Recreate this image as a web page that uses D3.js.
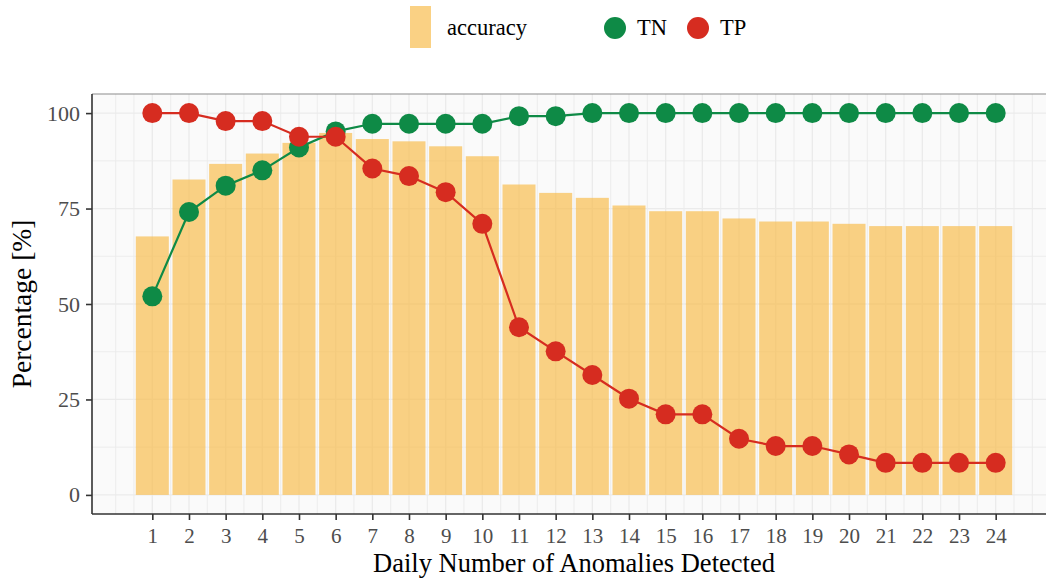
<!DOCTYPE html>
<html>
<head>
<meta charset="utf-8">
<script src="https://cdn.jsdelivr.net/npm/d3@7"></script>
<style>
  body { margin: 0; background: #fff; }
  svg { display: block; font-family: "Liberation Serif", "DejaVu Serif", serif; }
</style>
</head>
<body>
<svg width="1046" height="583"></svg>
<script>
// Data
var days = [1, 2, 3, 4, 5, 6, 7, 8, 9, 10, 11, 12, 13, 14, 15, 16, 17, 18, 19, 20, 21, 22, 23, 24];
var accuracy = [67.7, 82.6, 86.7, 89.4, 92.2, 94.8, 93.2, 92.6, 91.3, 88.7, 81.3, 79.1,
                77.8, 75.8, 74.3, 74.3, 72.4, 71.6, 71.6, 71.0, 70.4, 70.4, 70.4, 70.4];
var tn = [52.0, 74.1, 81.0, 85.0, 91.0, 95.2, 97.2, 97.2, 97.2, 97.2, 99.2, 99.2,
          100, 100, 100, 100, 100, 100, 100, 100, 100, 100, 100, 100];
var tp = [100, 100, 97.9, 97.9, 93.8, 93.8, 85.5, 83.5, 79.3, 71.0, 43.9, 37.6,
          31.4, 25.2, 21.1, 21.1, 14.7, 12.8, 12.8, 10.6, 8.4, 8.4, 8.4, 8.4];
var yTicks = [0, 25, 50, 75, 100];

var barColor = "#F8BE50", tnColor = "#0E8A46", tpColor = "#D62C20";

// Setting up the top level SVG
var svg = d3.select("svg"),
    margin = {top: 94, left: 92},
    width = 964,
    height = 420;

var g = svg.append("g")
    .attr("transform", "translate(" + margin.left + "," + margin.top + ")");

// Scales (continuous x with ggplot-like expansion)
var x = d3.scaleLinear().domain([-0.645, 25.645]).range([0, width]);
var y = d3.scaleLinear().domain([-5, 105]).range([height, 0]);
var unit = x(1) - x(0);

// Panel background
g.append("rect")
    .attr("width", width)
    .attr("height", height)
    .attr("fill", "#FAFAFA");

// Grid lines
var xMinor = d3.range(0, 25.01, 0.5);
var yMinor = [12.5, 37.5, 62.5, 87.5];

g.selectAll(".vgrid")
    .data(xMinor)
    .enter().append("line")
    .attr("class", "vgrid")
    .attr("x1", (d) => x(d)).attr("x2", (d) => x(d))
    .attr("y1", 0).attr("y2", height)
    .attr("stroke", "#EBEBEB")
    .attr("stroke-width", (d) => (d % 1 === 0 && d >= 1 && d <= 24) ? 1.3 : 0.9);

g.selectAll(".hgrid")
    .data(yTicks.concat(yMinor))
    .enter().append("line")
    .attr("class", "hgrid")
    .attr("x1", 0).attr("x2", width)
    .attr("y1", (d) => y(d)).attr("y2", (d) => y(d))
    .attr("stroke", "#EBEBEB")
    .attr("stroke-width", (d) => yTicks.indexOf(d) >= 0 ? 1.3 : 0.9);

// Accuracy bars
g.selectAll(".bar")
    .data(days)
    .enter().append("rect")
    .attr("class", "bar")
    .attr("x", (d) => x(d - 0.45))
    .attr("width", unit * 0.9)
    .attr("y", (d, i) => y(accuracy[i]))
    .attr("height", (d, i) => y(0) - y(accuracy[i]))
    .attr("fill", barColor)
    .attr("fill-opacity", 0.7);

// Lines and points
function drawSeries(values, color) {
    var line = d3.line()
        .x((d) => x(d))
        .y((d, i) => y(values[i]));

    g.append("path")
        .datum(days)
        .attr("d", line)
        .attr("fill", "none")
        .attr("stroke", color)
        .attr("stroke-width", 2.2);

    g.selectAll(null)
        .data(days)
        .enter().append("circle")
        .attr("cx", (d) => x(d))
        .attr("cy", (d, i) => y(values[i]))
        .attr("r", 10)
        .attr("fill", color);
}
drawSeries(tn, tnColor);
drawSeries(tp, tpColor);

// Panel border: top grey, left and bottom as axis lines
g.append("line")
    .attr("x1", 0).attr("x2", width).attr("y1", 0).attr("y2", 0)
    .attr("stroke", "#8C8C8C").attr("stroke-width", 1.2);

// Y axis
var yAxis = g.append("g")
    .call(d3.axisLeft(y).tickValues(yTicks).tickSize(6).tickPadding(6));
yAxis.select(".domain").remove();
yAxis.append("line")
    .attr("x1", 0).attr("x2", 0).attr("y1", 0).attr("y2", height)
    .attr("stroke", "#333").attr("stroke-width", 1.6);
yAxis.selectAll(".tick line").attr("stroke", "#333").attr("stroke-width", 1.6);
yAxis.selectAll(".tick text")
    .attr("fill", "#4D4D4D")
    .style("font-size", "22px")
    .style("font-family", "Liberation Serif, serif");

// X axis
var xAxis = g.append("g")
    .attr("transform", "translate(0," + height + ")")
    .call(d3.axisBottom(x).tickValues(days).tickSize(6).tickPadding(8));
xAxis.select(".domain").remove();
xAxis.append("line")
    .attr("x1", 0).attr("x2", width).attr("y1", 0).attr("y2", 0)
    .attr("stroke", "#333").attr("stroke-width", 1.6);
xAxis.selectAll(".tick line").attr("stroke", "#333").attr("stroke-width", 1.6);
xAxis.selectAll(".tick text")
    .attr("fill", "#4D4D4D")
    .style("font-size", "21px")
    .style("font-family", "Liberation Serif, serif");

// Axis titles
svg.append("text")
    .attr("x", margin.left + x(12.5))
    .attr("y", 572)
    .attr("text-anchor", "middle")
    .style("font-size", "26.5px")
    .text("Daily Number of Anomalies Detected");

svg.append("text")
    .attr("transform", "translate(31," + (margin.top + y(50)) + ") rotate(-90)")
    .attr("text-anchor", "middle")
    .style("font-size", "27.5px")
    .text("Percentage [%]");

// Legend
var legend = svg.append("g");
legend.append("rect")
    .attr("x", 410).attr("y", 6)
    .attr("width", 21).attr("height", 42)
    .attr("fill", barColor).attr("fill-opacity", 0.7);
legend.append("text")
    .attr("x", 447).attr("y", 35)
    .style("font-size", "22.5px")
    .text("accuracy");

var keys = [{name: "TN", color: tnColor, cx: 615}, {name: "TP", color: tpColor, cx: 698}];
legend.selectAll(".key")
    .data(keys)
    .enter().append("circle")
    .attr("cx", (d) => d.cx).attr("cy", 28)
    .attr("r", 11)
    .attr("fill", (d) => d.color);
legend.selectAll(".keytext")
    .data(keys)
    .enter().append("text")
    .attr("x", (d) => d.cx + 22).attr("y", 35)
    .style("font-size", "22.5px")
    .text((d) => d.name);
</script>
</body>
</html>
